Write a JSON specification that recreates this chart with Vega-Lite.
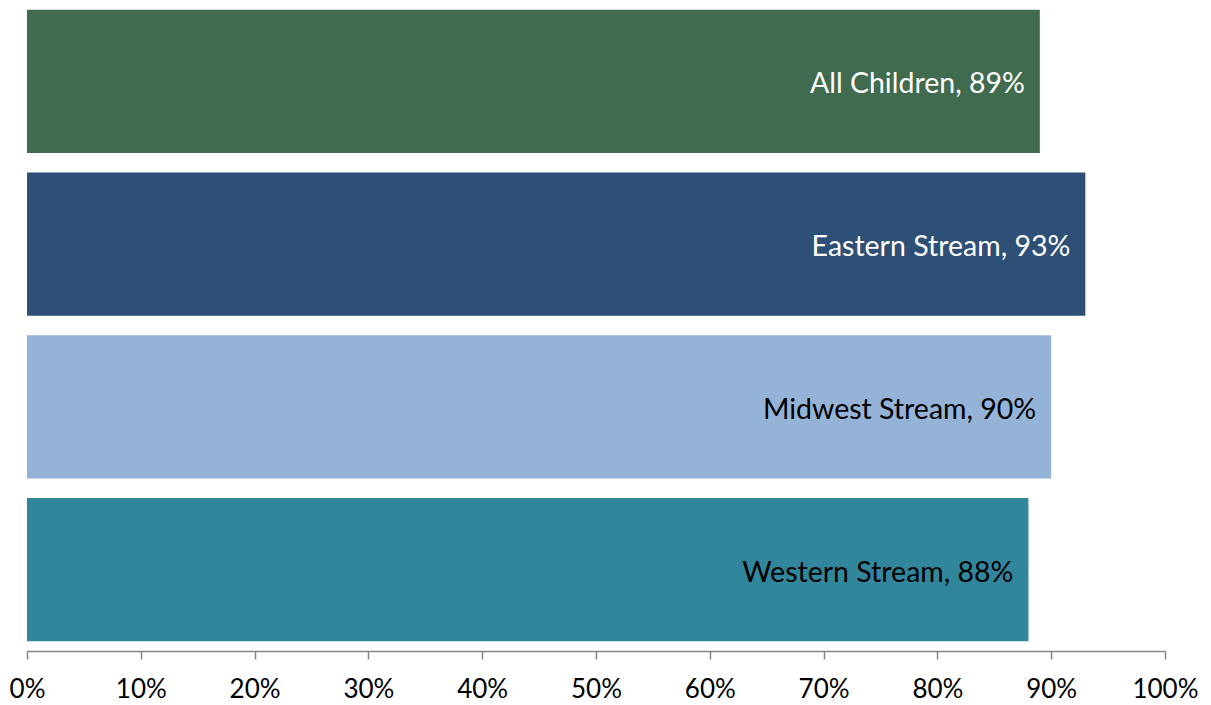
{
  "$schema": "https://vega.github.io/schema/vega-lite/v6.json",
  "width": 1138,
  "height": 651,
  "autosize": {"type": "none"},
  "padding": {"left": 27, "top": 0, "right": 46, "bottom": 54},
  "background": "white",
  "config": {"view": {"stroke": null}, "font": "Lato"},
  "data": {
    "values": [
      {"group": "All Children", "value": 89, "label": "All Children, 89%", "textColor": "white"},
      {"group": "Eastern Stream", "value": 93, "label": "Eastern Stream, 93%", "textColor": "white"},
      {"group": "Midwest Stream", "value": 90, "label": "Midwest Stream, 90%", "textColor": "black"},
      {"group": "Western Stream", "value": 88, "label": "Western Stream, 88%", "textColor": "black"}
    ]
  },
  "encoding": {
    "y": {
      "field": "group",
      "type": "nominal",
      "sort": null,
      "scale": {"paddingInner": 0.12, "paddingOuter": 0.06},
      "axis": null
    },
    "x": {
      "field": "value",
      "type": "quantitative",
      "scale": {"domain": [0, 100], "nice": false},
      "axis": {
        "title": null,
        "values": [0, 10, 20, 30, 40, 50, 60, 70, 80, 90, 100],
        "labelExpr": "datum.value + '%'",
        "grid": false,
        "domainColor": "#868686",
        "domainWidth": 1.5,
        "tickColor": "#868686",
        "tickWidth": 1.5,
        "tickSize": 8,
        "labelFontSize": 26,
        "labelColor": "black",
        "labelPadding": 17,
        "labelFlush": false
      }
    }
  },
  "layer": [
    {
      "mark": {"type": "bar"},
      "encoding": {
        "color": {
          "field": "group",
          "type": "nominal",
          "scale": {
            "domain": ["All Children", "Eastern Stream", "Midwest Stream", "Western Stream"],
            "range": ["#416B4E", "#2E4F76", "#95B3D7", "#32869C"]
          },
          "legend": null
        }
      }
    },
    {
      "mark": {"type": "text", "align": "right", "baseline": "middle", "dx": -15, "dy": 3, "fontSize": 28.5},
      "encoding": {
        "text": {"field": "label"},
        "color": {"field": "textColor", "type": "nominal", "scale": null}
      }
    }
  ]
}
